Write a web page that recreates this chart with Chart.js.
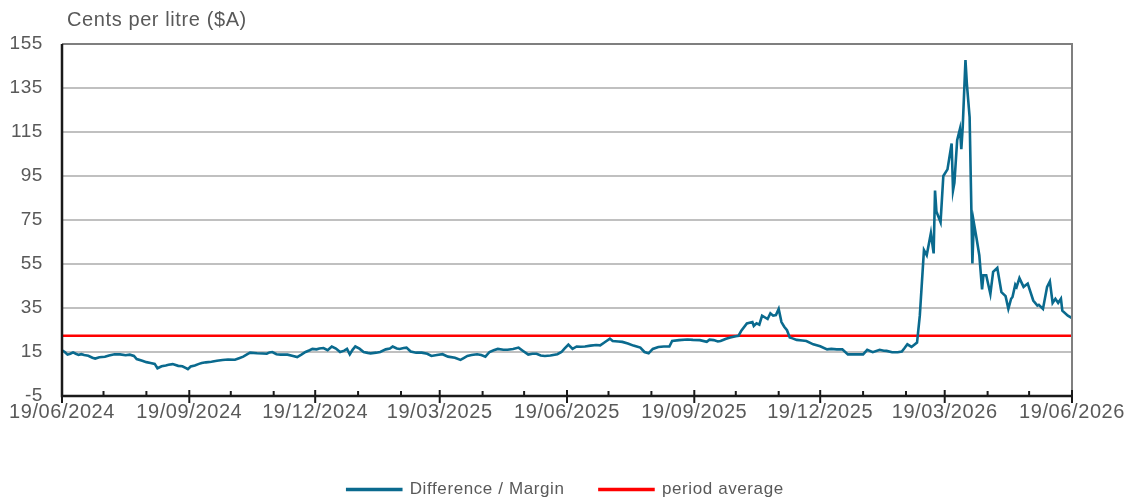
<!DOCTYPE html>
<html>
<head>
<meta charset="utf-8">
<script src="https://cdn.jsdelivr.net/npm/chart.js@4.4.1/dist/chart.umd.min.js"></script>
<style>
  html, body { margin: 0; padding: 0; background: #fff; }
  #wrap { width: 1131px; height: 501px; }
</style>
</head>
<body>
<div id="wrap"><canvas id="myChart" width="1131" height="501"></canvas></div>
<script>
'use strict';

// 日数は 19/06/2024 からの経過日数
const startDate = Date.UTC(2024, 5, 19);
const dayIndex = [
  0, 2, 4, 6, 8, 10, 12, 14, 16, 19, 22, 24, 27, 31, 34, 38, 42, 46, 49, 52,
  54, 58, 61, 64, 67, 69, 72, 75, 77, 80, 84, 87, 90, 91, 93, 96, 99, 101, 104, 108,
  112, 116, 120, 125, 128, 131, 134, 136, 141, 145, 148, 150, 152, 155, 158, 163, 167, 170, 173, 176,
  179, 181, 184, 186, 189, 192, 195, 198, 201, 204, 206, 208, 210, 212, 215, 218, 221, 223, 227, 230,
  234, 237, 239, 242, 244, 247, 249, 252, 256, 260, 264, 267, 271, 275, 279, 284, 288, 290, 293, 296,
  300, 303, 306, 309, 312, 315, 319, 322, 326, 330, 333, 337, 340, 343, 346, 349, 353, 358, 361, 363,
  366, 369, 372, 375, 378, 382, 386, 389, 392, 396, 398, 402, 405, 409, 413, 416, 418, 421, 424, 427,
  431, 435, 439, 441, 446, 452, 456, 461, 466, 468, 471, 474, 476, 480, 483, 487, 489, 491, 495, 499,
  500, 502, 504, 506, 510, 512, 514, 516, 518, 520, 522, 524, 526, 528, 531, 535, 538, 543, 548, 553,
  556, 560, 564, 568, 574, 579, 582, 586, 591, 594, 596, 600, 604, 607, 609, 611, 614, 618, 620, 623,
  625, 628, 630, 631, 632, 635, 637, 640, 643, 644, 645, 647, 649, 650, 651, 653, 654, 656, 658, 659,
  661, 663, 665, 666, 668, 671, 673, 676, 679, 682, 684, 686, 687, 689, 690, 692, 695, 698, 702, 705,
  706, 709, 712, 714, 716, 718, 720, 722, 723, 727, 730
];
const margin = [
  15.8, 15.0, 13.8, 14.2, 14.8, 14.2, 13.7, 14.0, 13.6, 13.3, 12.4, 12.0, 12.6, 12.8, 13.4, 14.0, 13.9, 13.5, 13.8, 13.2,
  11.8, 11.0, 10.4, 10.0, 9.6, 7.6, 8.5, 8.9, 9.2, 9.5, 8.7, 8.5, 7.6, 7.2, 8.4, 8.9, 9.6, 10.0, 10.3, 10.6,
  11.0, 11.4, 11.6, 11.5, 12.2, 12.9, 14.0, 14.7, 14.4, 14.3, 14.2, 14.8, 15.0, 14.0, 13.8, 13.8, 13.2, 12.7, 13.8, 15.0,
  15.8, 16.4, 16.2, 16.6, 16.8, 15.8, 17.5, 16.6, 15.0, 15.6, 16.4, 13.9, 16.0, 17.5, 16.5, 15.0, 14.6, 14.4, 14.7, 15.0,
  16.2, 16.6, 17.5, 16.6, 16.4, 16.8, 17.0, 15.2, 14.7, 14.7, 14.2, 13.2, 13.6, 14.0, 12.9, 12.4, 11.4, 12.1, 13.2, 13.6,
  14.0, 13.6, 12.9, 15.0, 15.8, 16.4, 16.0, 16.0, 16.4, 17.0, 15.6, 13.8, 14.2, 14.2, 13.4, 13.2, 13.4, 14.0, 15.0, 16.4,
  18.4, 16.4, 17.5, 17.4, 17.5, 17.9, 18.2, 18.0, 19.3, 21.1, 20.0, 19.8, 19.6, 18.9, 17.9, 17.4, 17.0, 15.0, 14.4, 16.4,
  17.3, 17.5, 17.5, 20.0, 20.4, 20.7, 20.5, 20.4, 19.6, 20.6, 20.4, 19.8, 20.0, 21.0, 21.6, 22.2, 22.4, 24.7, 28.0, 28.6,
  26.8, 28.0, 27.4, 31.5, 30.0, 32.6, 31.5, 31.8, 34.6, 28.6, 26.5, 24.9, 21.6, 21.2, 20.5, 20.2, 20.0, 18.5, 17.6, 16.2,
  16.4, 16.2, 16.2, 13.9, 13.9, 13.9, 16.0, 14.9, 16.0, 15.6, 15.5, 14.9, 14.9, 15.2, 16.8, 18.5, 17.3, 19.3, 31.5, 61.3,
  59.0, 69.0, 59.8, 88.4, 78.9, 74.0, 95.0, 98.0, 109.8, 88.4, 91.9, 111.3, 116.4, 107.2, 117.1, 147.7, 137.0, 121.7, 55.2, 74.0,
  66.7, 59.0, 43.5, 49.9, 49.9, 41.4, 51.4, 53.2, 42.2, 40.4, 34.6, 39.2, 40.0, 45.6, 44.6, 48.6, 44.6, 46.1, 38.4, 36.1,
  36.4, 34.6, 44.6, 47.1, 37.3, 39.2, 37.3, 39.2, 33.8, 31.5, 30.4
];
const periodAverage = 22.4;
const yTicks = [-5, 15, 35, 55, 75, 95, 115, 135, 155];
const seriesNames = ['Difference / Margin', 'period average'];
const yTitle = 'Cents per litre ($A)';

const FONT = "'Liberation Sans', Arial, sans-serif";
const TEXT_COLOR = '#595959';

// 月ごとの目盛り（3か月ごとにラベル）
const monthTicks = [];
for (let m = 0; m <= 24; m++) {
  const t = Date.UTC(2024, 5 + m, 19);
  monthTicks.push({ day: Math.round((t - startDate) / 86400000), major: m % 3 === 0 });
}
const quarterDays = monthTicks.filter(t => t.major).map(t => t.day);

const fmtDate = (day) => {
  const d = new Date(startDate + day * 86400000);
  const dd = String(d.getUTCDate()).padStart(2, '0');
  const mm = String(d.getUTCMonth() + 1).padStart(2, '0');
  return dd + '/' + mm + '/' + d.getUTCFullYear();
};

// Excel 風の字間
const spacingPlugin = {
  id: 'spacing',
  beforeLayout(chart) { chart.ctx.letterSpacing = '0.6px'; },
  beforeDraw(chart) { chart.ctx.letterSpacing = '0.6px'; }
};

// 枠線・目盛り・タイトルを描くプラグイン
const framePlugin = {
  id: 'frame',
  afterDraw(chart) {
    const { ctx, chartArea: a, scales } = chart;
    ctx.save();
    // 上と右の枠（グレー）
    ctx.strokeStyle = '#7f7f7f';
    ctx.lineWidth = 2;
    ctx.beginPath();
    ctx.moveTo(a.left, a.top);
    ctx.lineTo(a.right, a.top);
    ctx.lineTo(a.right, a.bottom);
    ctx.stroke();
    // 左と下の軸（黒）
    ctx.strokeStyle = '#1a1a1a';
    ctx.lineWidth = 2.5;
    ctx.beginPath();
    ctx.moveTo(a.left, a.top);
    ctx.lineTo(a.left, a.bottom);
    ctx.lineTo(a.right, a.bottom);
    ctx.stroke();
    // x 軸の目盛り
    ctx.lineWidth = 2;
    for (const t of monthTicks) {
      const x = scales.x.getPixelForValue(t.day);
      ctx.beginPath();
      if (t.major) {
        ctx.moveTo(x, a.bottom - 6);
        ctx.lineTo(x, a.bottom + 7);
      } else {
        ctx.moveTo(x, a.bottom - 5);
        ctx.lineTo(x, a.bottom);
      }
      ctx.stroke();
    }
    // 軸タイトル
    ctx.fillStyle = TEXT_COLOR;
    ctx.font = '20px ' + FONT;
    ctx.textBaseline = 'alphabetic';
    ctx.textAlign = 'left';
    ctx.fillText(yTitle, a.left + 5, 26);
    ctx.restore();
  }
};

const data = {
  datasets: [
    {
      label: seriesNames[0],
      data: dayIndex.map((d, i) => ({ x: d, y: margin[i] })),
      borderColor: '#0a6a8e',
      backgroundColor: '#0a6a8e',
      borderWidth: 2.6,
      pointRadius: 0,
      tension: 0,
      fill: false
    },
    {
      label: seriesNames[1],
      data: [{ x: 0, y: periodAverage }, { x: 730, y: periodAverage }],
      borderColor: '#ff0000',
      backgroundColor: '#ff0000',
      borderWidth: 2.6,
      pointRadius: 0,
      tension: 0,
      fill: false
    }
  ]
};

const config = {
  type: 'line',
  data: data,
  plugins: [spacingPlugin, framePlugin],
  options: {
    responsive: false,
    animation: false,
    events: [],
    layout: { padding: { top: 44, right: 0, left: 0, bottom: -7 } },
    plugins: {
      title: { display: false },
      tooltip: { enabled: false },
      legend: {
        display: true,
        position: 'bottom',
        labels: {
          boxWidth: 54,
          boxHeight: 1,
          padding: 35,
          color: TEXT_COLOR,
          font: { family: FONT, size: 17 }
        }
      }
    },
    scales: {
      x: {
        type: 'linear',
        min: 0,
        max: 730,
        afterBuildTicks: (scale) => { scale.ticks = quarterDays.map(v => ({ value: v })); },
        afterFit: (scale) => { scale.height = 50; },
        grid: { display: false, drawTicks: false },
        border: { display: false },
        ticks: {
          padding: 4,
          autoSkip: false,
          maxRotation: 0,
          color: TEXT_COLOR,
          font: { family: FONT, size: 20 },
          callback: (v) => fmtDate(v)
        }
      },
      y: {
        min: -5,
        max: 155,
        afterBuildTicks: (scale) => { scale.ticks = yTicks.map(v => ({ value: v })); },
        afterFit: (scale) => { scale.width = 62; },
        grid: { color: '#c0c0c0', lineWidth: 2, drawTicks: false },
        border: { display: false },
        ticks: {
          padding: 19,
          color: TEXT_COLOR,
          font: { family: FONT, size: 19 }
        }
      },
      // 右側の余白用（表示なし）
      yRight: {
        type: 'linear',
        position: 'right',
        display: true,
        afterFit: (scale) => { scale.width = 59; },
        grid: { display: false, drawTicks: false },
        border: { display: false },
        ticks: { display: false }
      }
    }
  }
};

new Chart(document.getElementById('myChart'), config);
</script>
</body>
</html>
